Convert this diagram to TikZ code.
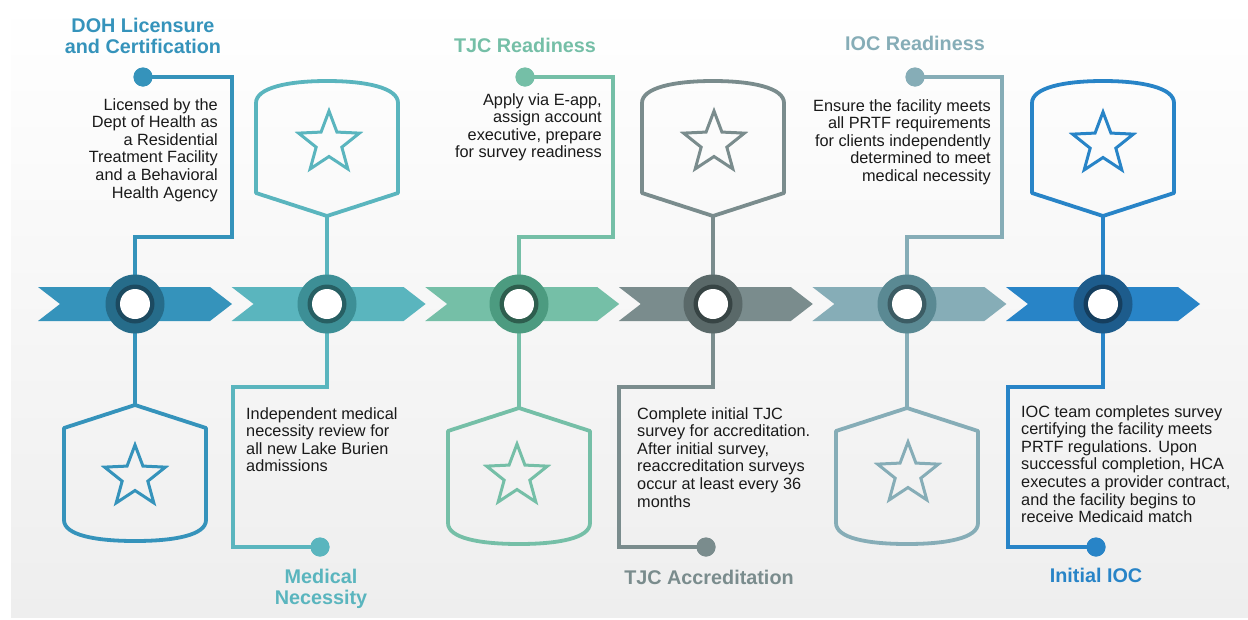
\documentclass[tikz,border=0pt]{standalone}
\usepackage{fontspec}
\setmainfont{Liberation Sans}
\definecolor{bgb}{HTML}{EEEEEE}
\definecolor{txt}{HTML}{1A1A1A}
\definecolor{mA}{HTML}{3593BB}\definecolor{rA}{HTML}{266C8A}\definecolor{kA}{HTML}{1C4A60}
\definecolor{mB}{HTML}{5AB5BE}\definecolor{rB}{HTML}{3D8F96}\definecolor{kB}{HTML}{275F63}
\definecolor{mC}{HTML}{75BFA7}\definecolor{rC}{HTML}{4C9B80}\definecolor{kC}{HTML}{2E5E4E}
\definecolor{mD}{HTML}{7A8C8D}\definecolor{rD}{HTML}{5A6969}\definecolor{kD}{HTML}{374444}
\definecolor{mE}{HTML}{86ADB7}\definecolor{rE}{HTML}{5A8993}\definecolor{kE}{HTML}{3C5C64}
\definecolor{mF}{HTML}{2884C7}\definecolor{rF}{HTML}{1D5C8C}\definecolor{kF}{HTML}{153E5E}
\newcommand{\mystar}[3]{\draw[starline,#3,shift={(#1,#2)}] (-90:32) -- (-54:13.5) -- (-18:32) -- (18:13.5) -- (54:32) -- (90:13.5) -- (126:32) -- (162:13.5) -- (198:32) -- (234:13.5) -- cycle;}
% shield pointing down (top badges): cx, color
\newcommand{\shieldtop}[2]{\draw[shield,#2] (#1-71,193) -- (#1-71,103) .. controls (#1-71,88) and (#1-40,81) .. (#1,81) .. controls (#1+40,81) and (#1+71,88) .. (#1+71,103) -- (#1+71,193) -- (#1,216) -- cycle;}
% shield pointing up (bottom badges): cx, apex y, color
\newcommand{\shieldbot}[3]{\draw[shield,#3] (#1,#2) -- (#1+71,#2+23) -- (#1+71,#2+115) .. controls (#1+71,#2+130) and (#1+40,#2+136) .. (#1,#2+136) .. controls (#1-40,#2+136) and (#1-71,#2+130) .. (#1-71,#2+115) -- (#1-71,#2+23) -- cycle;}
\newcommand{\chev}[2]{\fill[#2] (#1,287) -- (#1+172,287) -- (#1+194,304) -- (#1+172,321) -- (#1,321) -- (#1+22,304) -- cycle;}
\begin{document}
\begin{tikzpicture}[x=1pt,y=-1pt,
  conn/.style={line width=3.6pt,line join=miter},
  shield/.style={line width=3.8pt,line join=round},
  starline/.style={line width=3pt,line join=miter},
  ring/.style={circle,inner sep=0pt,minimum size=59pt},
  dot/.style={circle,inner sep=0pt,minimum size=19pt},
  body/.style={font=\fontsize{16.3}{17.6}\selectfont,text=txt,inner sep=0pt},
  ttl/.style={font=\fontsize{19.8}{21}\selectfont\bfseries,inner sep=0pt,align=center}]
\useasboundingbox (0,0) rectangle (1248,619);
\shade[top color=white,bottom color=bgb] (11,0) rectangle (1248,617);
% chevrons
\chev{38}{mA}
\chev{231.6}{mB}
\chev{425.2}{mC}
\chev{618.8}{mD}
\chev{812.4}{mE}
\chev{1006}{mF}
% circle centres
\coordinate (p1) at (135,304);
\coordinate (p2) at (327,304);
\coordinate (p3) at (519,304);
\coordinate (p4) at (713,304);
\coordinate (p5) at (907,304);
\coordinate (p6) at (1103,304);
% dots
\node[dot,fill=mA] (d1) at (143,77) {};
\node[dot,fill=mB] (d2) at (320,547) {};
\node[dot,fill=mC] (d3) at (525,77) {};
\node[dot,fill=mD] (d4) at (706,547) {};
\node[dot,fill=mE] (d5) at (915,77) {};
\node[dot,fill=mF] (d6) at (1096,547) {};
% badge apex coordinates
\coordinate (b1) at (135,405);
\coordinate (b2) at (327,216);
\coordinate (b3) at (519,408);
\coordinate (b4) at (713,216);
\coordinate (b5) at (907,408);
\coordinate (b6) at (1103,216);
% connectors
\draw[conn,mA] (d1.center) -- (232,77) -- (232,237) -- (135,237) -- (p1);
\draw[conn,mA] (p1) -- (b1);
\draw[conn,mB] (p2) -- (327,387) -- (233,387) -- (233,547) -- (d2.center);
\draw[conn,mB] (b2) -- (p2);
\draw[conn,mC] (d3.center) -- (613,77) -- (613,237) -- (519,237) -- (p3);
\draw[conn,mC] (p3) -- (b3);
\draw[conn,mD] (p4) -- (713,387) -- (619,387) -- (619,547) -- (d4.center);
\draw[conn,mD] (b4) -- (p4);
\draw[conn,mE] (d5.center) -- (1002,77) -- (1002,237) -- (907,237) -- (p5);
\draw[conn,mE] (p5) -- (b5);
\draw[conn,mF] (p6) -- (1103,387) -- (1008,387) -- (1008,547) -- (d6.center);
\draw[conn,mF] (b6) -- (p6);
% dots redrawn on top
\fill[mA] (d1) circle (9.5);
\fill[mB] (d2) circle (9.5);
\fill[mC] (d3) circle (9.5);
\fill[mD] (d4) circle (9.5);
\fill[mE] (d5) circle (9.5);
\fill[mF] (d6) circle (9.5);
% circles
\foreach \i/\r/\k in {1/rA/kA,2/rB/kB,3/rC/kC,4/rD/kD,5/rE/kE,6/rF/kF}{
  \node[ring,fill=\r] (c\i) at (p\i) {};
  \fill[\k] (c\i.center) circle (19.5);
  \fill[white] (c\i.center) circle (15);
}
% badges
\shieldbot{135}{405}{mA}\mystar{135}{477}{mA}
\shieldtop{327}{mB}\mystar{329}{143}{mB}
\shieldbot{519}{408}{mC}\mystar{517}{476}{mC}
\shieldtop{713}{mD}\mystar{714}{143}{mD}
\shieldbot{907}{408}{mE}\mystar{908}{474}{mE}
\shieldtop{1103}{mF}\mystar{1103}{144}{mF}
% titles
\node[ttl,text=mA,anchor=north] (h1) at (143,17.5) {DOH Licensure\\and Certification};
\node[ttl,text=mB,anchor=north] (h2) at (321,568.5) {Medical\\Necessity};
\node[ttl,text=mC,anchor=north] (h3) at (525,37.5) {TJC Readiness};
\node[ttl,text=mD,anchor=north] (h4) at (709,569.5) {TJC Accreditation};
\node[ttl,text=mE,anchor=north] (h5) at (915,35.5) {IOC Readiness};
\node[ttl,text=mF,anchor=north] (h6) at (1096,567.5) {Initial IOC};
% body texts
\node[body,anchor=north east,align=right] (t1) at (218,98) {Licensed by the\\Dept of Health as\\a Residential\\Treatment Facility\\and a Behavioral\\Health Agency};
\node[body,anchor=north west,align=left] (t2) at (246,407) {Independent medical\\necessity review for\\all new Lake Burien\\admissions};
\node[body,anchor=north east,align=right] (t3) at (602,93) {Apply via E-app,\\assign account\\executive, prepare\\for survey readiness};
\node[body,anchor=north west,align=left] (t4) at (637,407) {Complete initial TJC\\survey for accreditation.\\After initial survey,\\reaccreditation surveys\\occur at least every 36\\months};
\node[body,anchor=north east,align=right] (t5) at (991,99) {Ensure the facility meets\\all PRTF requirements\\for clients independently\\determined to meet\\medical necessity};
\node[body,anchor=north west,align=left] (t6) at (1021,405) {IOC team completes survey\\certifying the facility meets\\PRTF regulations. Upon\\successful completion, HCA\\executes a provider contract,\\and the facility begins to\\receive Medicaid match};
\end{tikzpicture}
\end{document}
